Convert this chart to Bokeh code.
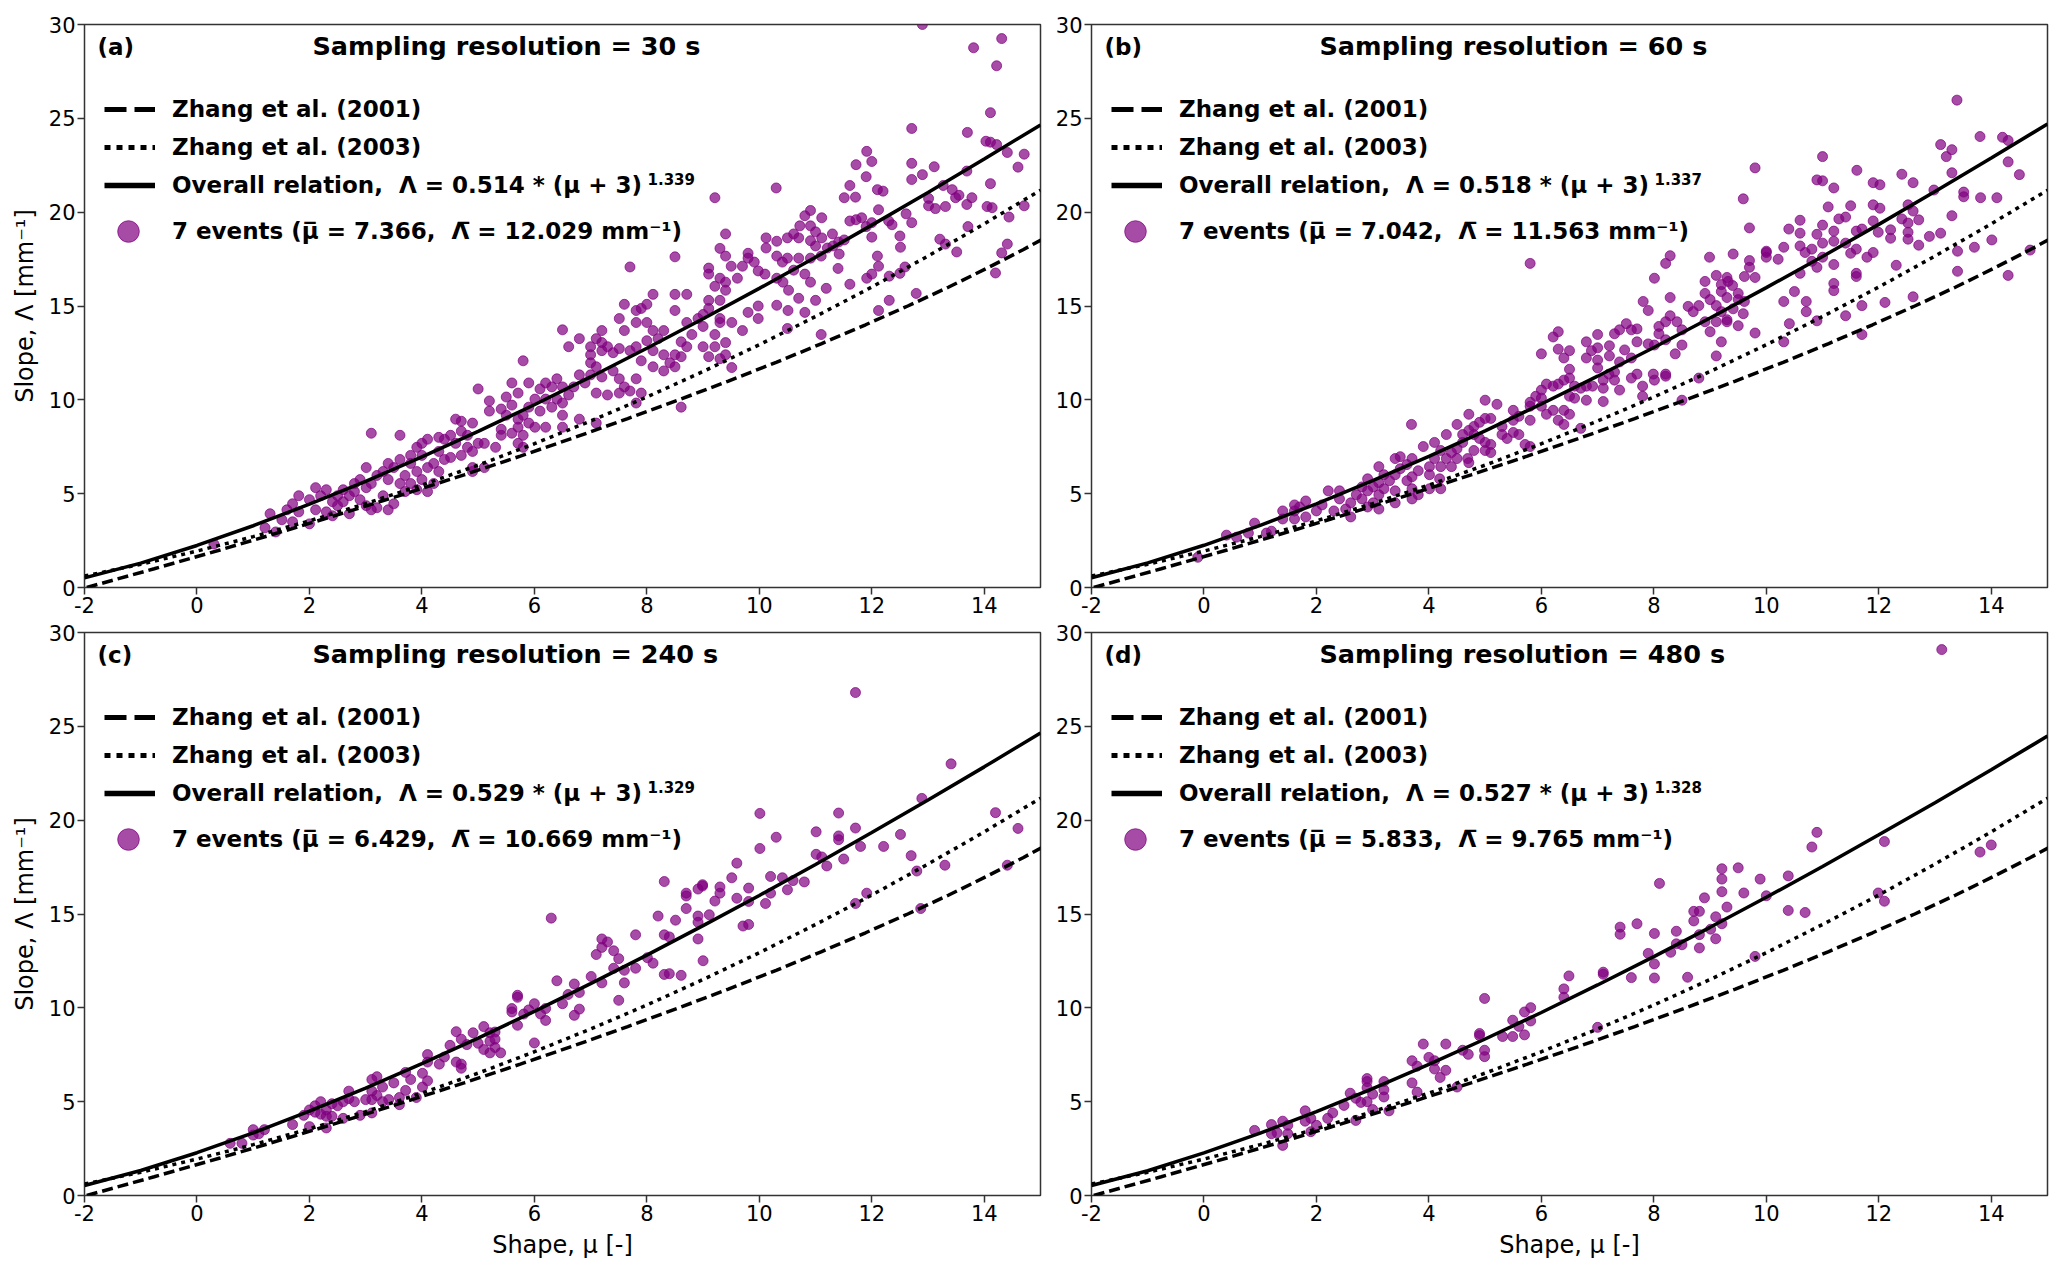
from bokeh.plotting import figure
from bokeh.layouts import gridplot
from bokeh.models import FixedTicker, Legend, LegendItem, Label
from bokeh.embed import file_html
from bokeh.resources import INLINE

# ---- data ----
MU_TICKS = [-2, 0, 2, 4, 6, 8, 10, 12, 14]
LAM_TICKS = [0, 5, 10, 15, 20, 25, 30]

PANEL_TAGS = ["(a)", "(b)", "(c)", "(d)"]
RESOLUTIONS = ["30 s", "60 s", "240 s", "480 s"]
FIT_COEF = ["0.514", "0.518", "0.529", "0.527"]
FIT_EXPO = ["1.339", "1.337", "1.329", "1.328"]
MU_MEAN = ["7.366", "7.042", "6.429", "5.833"]
LAM_MEAN = ["12.029", "11.563", "10.669", "9.765"]

# Zhang et al. (2001), given as slope -> shape pairs
Z01_LAM = [0, 1, 2, 3, 4, 5, 6, 7, 8, 9, 10, 11, 12, 13, 14, 15, 16, 17, 18, 19]
Z01_MU = [-1.96, -0.76, 0.41, 1.54, 2.64, 3.71, 4.75, 5.75, 6.72, 7.66,
          8.57, 9.45, 10.30, 11.11, 11.89, 12.64, 13.36, 14.04, 14.69, 15.31]

# Zhang et al. (2003) and the fitted overall relations, on a shape grid
CURVE_MU = [-2, -1, 0, 1, 2, 3, 4, 5, 6, 7, 8, 9, 10, 11, 12, 13, 14, 15]
Z03_LAM = [0.61, 1.24, 1.94, 2.71, 3.55, 4.47, 5.46, 6.52, 7.66, 8.87,
           10.15, 11.51, 12.94, 14.44, 16.01, 17.66, 19.38, 21.17]
FIT_A = [0.51, 1.30, 2.24, 3.29, 4.44, 5.66, 6.96, 8.32, 9.74, 11.22,
         12.75, 14.32, 15.94, 17.60, 19.31, 21.05, 22.83, 24.65]
FIT_B = [0.52, 1.31, 2.25, 3.31, 4.46, 5.69, 6.99, 8.35, 9.78, 11.26,
         12.79, 14.36, 15.98, 17.64, 19.35, 21.10, 22.88, 24.70]
FIT_C = [0.53, 1.33, 2.28, 3.34, 4.49, 5.72, 7.03, 8.39, 9.81, 11.29,
         12.81, 14.38, 15.99, 17.64, 19.34, 21.07, 22.84, 24.65]
FIT_D = [0.53, 1.32, 2.27, 3.32, 4.47, 5.69, 6.99, 8.34, 9.75, 11.22,
         12.73, 14.29, 15.89, 17.53, 19.22, 20.93, 22.69, 24.48]

# (shape mu, slope Lambda) of the 1-min events, per sampling resolution
PTS_30S = [
    (12.9, 30.0), (13.81, 28.76), (14.31, 29.25), (14.22, 27.8), (14.11, 25.3), (12.71, 24.46),
    (13.70, 24.25), (14.03, 23.78), (14.11, 23.73), (14.22, 23.6), (14.41, 23.18), (14.71, 23.09),
    (14.60, 22.4), (13.69, 22.19), (11.91, 23.24), (12.00, 22.7), (11.72, 22.53), (13.11, 22.42),
    (12.71, 22.6), (12.90, 22.0), (12.71, 21.74), (11.90, 21.89), (11.61, 21.42), (10.30, 21.29),
    (9.21, 20.77), (12.10, 21.2), (12.20, 21.12), (13.27, 21.42), (13.43, 21.2), (14.11, 21.52),
    (13.55, 20.9), (13.49, 20.77), (13.01, 20.73), (13.78, 20.77), (13.01, 20.34), (13.13, 20.19),
    (13.31, 20.3), (14.05, 20.3), (14.14, 20.24), (14.44, 19.74), (14.71, 20.34), (13.69, 20.41),
    (11.51, 20.77), (11.71, 20.8), (11.61, 19.53), (11.72, 19.6), (11.82, 19.7), (12.12, 20.13),
    (11.90, 19.23), (12.00, 19.44), (12.30, 19.53), (12.36, 19.33), (12.71, 19.44), (12.61, 19.91),
    (12.50, 18.73), (12.00, 18.67), (13.21, 18.56), (13.31, 18.3), (13.51, 17.88), (13.71, 19.23),
    (14.31, 17.83), (14.41, 18.3), (12.51, 18.13), (12.10, 17.66), (12.12, 17.12), (12.00, 16.7),
    (11.91, 16.48), (12.59, 17.08), (12.50, 16.74), (12.31, 16.59), (11.61, 16.16), (11.19, 15.94),
    (11.40, 17.0), (11.10, 13.48), (12.12, 14.76), (12.31, 15.3), (12.79, 15.67), (14.20, 16.76),
    (10.91, 20.09), (10.81, 19.81), (11.11, 19.7), (10.72, 19.27), (10.91, 19.27), (11.0, 18.95),
    (10.61, 18.84), (10.12, 18.63), (10.31, 18.45), (10.50, 18.63), (10.70, 18.63), (10.91, 18.48),
    (11.11, 18.63), (11.30, 18.84), (11.41, 18.41), (11.51, 18.52), (11.0, 18.2), (11.21, 18.09),
    (11.31, 18.2), (11.42, 17.77), (11.10, 17.66), (10.91, 17.55), (10.70, 17.55), (10.50, 17.55),
    (10.31, 17.66), (10.41, 17.34), (10.12, 18.09), (9.80, 17.81), (9.80, 17.55), (9.91, 17.34),
    (9.70, 17.12), (9.61, 16.48), (9.50, 17.12), (9.40, 18.84), (9.40, 17.66), (9.30, 18.07),
    (8.50, 17.62), (7.70, 17.08), (9.10, 17.02), (9.10, 16.7), (9.30, 16.48), (9.21, 16.05),
    (9.40, 16.27), (9.98, 16.87), (10.10, 16.7), (10.31, 16.48), (10.42, 16.27), (10.61, 16.91),
    (10.81, 16.70), (10.91, 16.27), (10.52, 15.84), (10.70, 15.41), (10.31, 15.04), (10.51, 14.76),
    (10.81, 14.66), (11.0, 15.3), (10.50, 13.8), (9.98, 15.0), (9.98, 14.33), (9.80, 14.66),
    (9.70, 13.69), (9.51, 14.12), (9.40, 13.05), (9.40, 15.84), (9.30, 15.3), (9.10, 15.3),
    (9.10, 14.87), (9.00, 14.55), (8.91, 14.33), (9.00, 13.91), (9.30, 14.33), (9.30, 14.12),
    (9.21, 13.48), (9.21, 12.83), (9.40, 12.4), (9.30, 12.19), (9.51, 11.72), (9.10, 12.3),
    (9.00, 12.83), (8.80, 13.48), (8.71, 12.83), (8.61, 13.09), (8.71, 14.12), (8.50, 14.76),
    (8.71, 15.62), (8.50, 15.62), (8.11, 15.62), (8.00, 15.09), (7.90, 14.87), (7.81, 14.76),
    (7.60, 15.09), (7.51, 14.33), (7.60, 13.69), (7.81, 14.12), (8.00, 14.12), (8.11, 13.69),
    (8.30, 13.69), (8.20, 13.26), (8.00, 13.15), (7.81, 12.83), (8.11, 12.62), (8.30, 12.4),
    (8.41, 11.97), (8.30, 11.54), (8.11, 11.76), (8.50, 11.76), (8.61, 12.3), (8.61, 9.61),
    (8.50, 12.40), (7.90, 12.08), (7.70, 12.62), (7.51, 12.73), (7.30, 12.83), (7.40, 12.51),
    (7.20, 12.62), (7.00, 12.83), (7.00, 12.40), (7.10, 13.26), (7.20, 13.69), (7.20, 13.05),
    (7.00, 11.97), (7.10, 11.76), (7.00, 11.33), (7.20, 11.22), (7.40, 11.54), (7.51, 11.12),
    (7.60, 10.69), (7.81, 11.12), (7.90, 10.36), (7.70, 10.47), (7.81, 9.83), (7.51, 10.36),
    (7.30, 10.26), (7.10, 10.36), (6.90, 10.9), (6.80, 11.33), (6.80, 13.26), (6.50, 13.73),
    (6.61, 12.83), (6.70, 10.69), (6.61, 10.26), (6.50, 10.69), (6.40, 11.12), (6.31, 10.69),
    (6.20, 10.90), (6.10, 10.58), (6.01, 10.04), (6.20, 10.04), (6.40, 10.04), (6.50, 9.83),
    (6.31, 9.61), (6.50, 9.18), (6.10, 9.40), (5.90, 9.61), (5.80, 9.18), (5.80, 12.08),
    (5.60, 10.90), (5.71, 10.36), (5.90, 10.90), (5.50, 10.15), (5.60, 9.72), (5.41, 9.51),
    (5.50, 9.18), (5.71, 8.97), (5.71, 8.54), (5.90, 8.76), (6.01, 8.54), (6.20, 8.54),
    (5.80, 8.11), (5.60, 8.22), (5.41, 8.11), (5.71, 7.68), (5.80, 7.47), (5.31, 7.47),
    (5.41, 8.43), (5.20, 9.40), (5.20, 9.94), (5.00, 10.58), (4.90, 8.76), (4.70, 8.86),
    (4.60, 8.97), (4.70, 8.33), (4.81, 8.11), (4.51, 8.11), (4.60, 7.68), (4.40, 7.90),
    (4.30, 8.00), (4.81, 7.47), (4.70, 7.04), (4.90, 7.25), (5.00, 7.68), (5.11, 7.68),
    (5.11, 6.39), (4.90, 6.18), (4.30, 7.25), (4.40, 6.82), (4.51, 6.93), (4.21, 6.61),
    (4.10, 7.90), (4.00, 7.68), (3.91, 7.47), (4.00, 7.04), (3.80, 7.04), (3.61, 8.11),
    (3.10, 8.22), (4.10, 6.39), (3.91, 6.18), (4.00, 5.75), (3.80, 6.61), (3.70, 5.97),
    (3.61, 6.82), (3.50, 6.39), (3.40, 6.61), (3.31, 6.18), (3.20, 5.97), (3.40, 5.75),
    (3.61, 5.54), (3.80, 5.54), (3.70, 5.11), (3.91, 5.21), (4.10, 5.11), (3.50, 4.46),
    (3.31, 4.89), (3.10, 5.54), (3.01, 6.39), (2.90, 5.75), (3.01, 5.32), (2.80, 5.54),
    (2.80, 5.11), (2.90, 4.68), (3.20, 4.25), (3.01, 4.36), (2.71, 4.89), (2.60, 5.21),
    (2.50, 4.89), (2.41, 4.57), (2.60, 4.57), (2.71, 3.93), (2.30, 5.21), (2.11, 5.32),
    (2.20, 4.89), (2.00, 4.68), (2.11, 4.14), (2.00, 3.39), (1.81, 4.89), (1.70, 4.46),
    (1.60, 4.14), (1.81, 4.03), (1.70, 3.50), (1.51, 3.61), (1.30, 3.93), (1.21, 3.18),
    (1.40, 2.96), (0.30, 2.32), (2.30, 4.03), (2.50, 4.36), (2.41, 3.82), (3.40, 4.14),
    (3.10, 4.14), (4.21, 5.54), (4.30, 6.18), (4.90, 6.39), (6.50, 8.54), (7.10, 8.76),
    (6.80, 8.97),
]

PTS_60S = [
    (13.39, 25.97), (13.80, 24.03), (14.20, 23.99), (14.30, 23.82), (13.10, 23.6), (13.30, 23.33),
    (13.20, 22.96), (14.30, 22.68), (14.50, 22.0), (13.30, 22.1), (11.00, 22.96), (9.80, 22.36),
    (11.61, 22.23), (12.41, 22.02), (12.61, 21.57), (10.90, 21.72), (11.00, 21.67), (11.20, 21.29),
    (11.90, 21.57), (12.02, 21.46), (12.98, 21.18), (13.51, 21.07), (13.51, 20.82), (13.81, 20.77),
    (14.10, 20.77), (9.59, 20.71), (11.10, 20.28), (11.50, 20.34), (11.90, 20.39), (12.02, 20.21),
    (12.52, 20.39), (12.61, 20.06), (13.30, 19.81), (11.41, 19.74), (11.29, 19.64), (10.60, 19.57),
    (11.00, 19.31), (11.90, 19.53), (12.41, 19.64), (12.52, 19.42), (12.71, 19.59), (9.70, 19.16),
    (10.40, 19.10), (10.60, 18.88), (10.90, 18.82), (11.20, 18.99), (11.60, 18.99), (11.70, 19.10),
    (12.21, 19.06), (11.99, 18.93), (12.52, 18.93), (12.90, 18.71), (13.10, 18.88), (12.21, 18.61),
    (12.52, 18.56), (14.01, 18.52), (13.70, 18.13), (13.40, 17.92), (12.71, 18.24), (10.31, 18.13),
    (10.60, 18.20), (10.81, 18.03), (11.00, 18.35), (11.20, 18.45), (11.41, 18.35), (11.00, 17.6),
    (10.69, 17.85), (10.00, 17.92), (10.00, 17.6), (10.21, 17.49), (11.50, 17.81), (11.60, 18.03),
    (11.79, 17.6), (11.90, 17.85), (10.81, 17.38), (11.20, 17.21), (10.90, 17.06), (12.31, 17.17),
    (10.60, 16.74), (11.60, 16.74), (11.60, 16.57), (14.30, 16.63), (14.69, 17.98), (13.40, 16.85),
    (11.20, 16.20), (11.20, 15.82), (10.50, 15.77), (10.31, 15.24), (10.71, 15.24), (10.71, 14.70),
    (11.70, 15.02), (11.41, 14.48), (12.11, 15.19), (12.61, 15.49), (10.41, 14.06), (10.90, 14.21),
    (10.31, 13.09), (11.70, 13.48), (9.80, 13.56), (9.59, 14.59),
    (10.0, 17.85), (9.70, 17.42), (9.70, 17.06), (9.61, 16.57), (9.80, 16.52), (9.41, 17.77),
    (9.11, 16.63), (8.99, 17.6), (8.29, 17.68), (8.21, 17.27), (8.01, 16.48), (9.30, 16.52),
    (9.32, 16.31), (9.40, 16.09), (9.20, 16.14), (8.91, 16.31), (9.20, 15.77), (8.91, 15.67),
    (9.00, 15.34), (9.50, 15.67), (9.50, 15.34), (9.61, 15.24), (9.30, 15.45), (9.11, 15.02),
    (9.20, 14.70), (9.41, 14.85), (9.30, 14.27), (9.30, 14.16), (9.50, 13.95), (9.11, 14.16),
    (8.91, 14.16), (9.00, 13.63), (9.20, 13.09), (9.11, 12.34), (8.80, 15.02), (8.61, 14.98),
    (8.70, 14.70), (8.29, 15.45), (7.81, 15.24), (7.90, 14.76), (8.29, 14.48), (8.21, 14.16),
    (8.09, 13.91), (8.41, 14.16), (8.50, 13.73), (8.09, 13.52), (8.21, 13.20), (8.01, 12.92),
    (8.38, 12.45), (8.50, 12.92), (7.90, 12.98), (7.70, 13.09), (7.60, 13.73), (7.51, 14.06),
    (7.70, 13.78), (7.39, 13.73), (7.30, 13.52), (7.48, 12.66), (7.60, 12.23), (7.39, 12.02),
    (7.30, 11.48), (7.60, 11.16), (7.70, 11.37), (7.99, 11.37), (8.21, 11.37), (8.01, 11.05),
    (8.21, 11.26), (7.80, 10.73), (7.80, 10.19), (8.50, 9.98), (8.80, 11.16), (7.21, 12.88),
    (7.21, 12.34), (7.00, 13.48), (7.00, 12.77), (6.80, 13.09), (6.89, 12.62), (6.80, 12.23),
    (7.00, 12.12), (7.00, 11.70), (7.20, 11.37), (7.10, 11.05), (7.30, 11.05), (7.39, 10.52),
    (7.10, 10.62), (6.91, 10.73), (6.80, 10.73), (6.80, 9.98), (7.10, 9.91), (6.50, 12.62),
    (6.50, 11.63), (6.40, 12.23), (6.30, 12.70), (6.21, 13.35), (6.30, 13.63), (6.00, 12.45),
    (6.40, 11.05), (6.50, 11.16), (6.59, 10.73), (6.70, 10.62), (6.50, 10.19), (6.59, 10.09),
    (6.30, 10.84), (6.21, 10.73), (6.09, 10.84), (6.00, 10.52), (5.90, 10.19), (6.00, 10.09),
    (5.80, 9.87), (5.80, 9.66), (6.00, 9.66), (6.09, 9.23), (6.21, 9.44), (6.40, 9.44),
    (6.50, 9.23), (6.30, 8.91), (6.40, 8.69), (6.70, 8.48), (5.80, 8.91), (5.50, 9.44),
    (5.50, 8.91), (5.60, 9.12), (5.30, 8.58), (5.30, 8.15), (5.50, 8.26), (5.60, 8.15),
    (5.39, 7.94), (5.71, 7.62), (5.80, 7.51), (5.21, 9.76), (5.00, 9.98), (5.10, 9.01),
    (5.00, 9.01), (4.90, 8.80), (4.71, 9.23), (4.80, 8.58), (4.71, 8.37), (4.80, 8.15),
    (4.60, 8.15), (4.50, 8.69), (4.90, 7.94), (5.00, 7.73), (5.10, 7.62), (5.00, 7.30),
    (4.80, 7.30), (5.10, 7.19), (4.60, 7.73), (4.50, 7.40), (4.40, 7.19), (4.31, 8.15),
    (4.10, 7.73), (4.21, 7.30), (4.10, 6.87), (4.31, 6.87), (4.50, 6.87), (4.71, 6.65),
    (4.40, 6.44), (4.21, 6.44), (4.01, 6.44), (3.69, 8.69), (3.90, 7.51), (3.70, 6.87),
    (3.49, 6.97), (3.40, 6.87), (3.61, 6.55), (3.49, 6.33), (3.81, 6.22), (4.01, 6.01),
    (4.19, 5.79), (3.70, 5.90), (3.61, 5.69), (3.40, 6.01), (3.20, 6.01), (3.11, 6.44),
    (3.30, 5.69), (3.11, 5.58), (2.91, 5.79), (3.01, 5.36), (3.20, 5.26), (3.40, 5.15),
    (3.70, 5.26), (3.81, 4.94), (4.01, 5.26), (4.21, 5.26), (3.40, 4.51), (3.70, 4.72),
    (3.11, 4.94), (2.91, 5.15), (2.81, 5.36), (2.81, 4.72), (2.71, 4.94), (2.61, 4.51),
    (3.01, 4.51), (3.11, 4.18), (2.91, 4.29), (2.52, 4.18), (2.61, 3.76), (2.41, 4.72),
    (2.41, 5.15), (2.31, 4.08), (2.21, 5.15), (2.10, 4.40), (2.00, 4.08), (1.81, 4.61),
    (1.70, 4.29), (1.61, 4.40), (1.61, 4.08), (1.81, 3.76), (1.61, 3.65), (1.40, 4.08),
    (1.40, 3.65), (1.20, 3.00), (1.11, 2.90), (0.90, 3.43), (0.79, 2.90), (0.58, 2.68),
    (0.40, 2.79), (-0.11, 1.61), (5.80, 17.27), (4.69, 6.87),
]

PTS_240S = [
    (11.71, 26.8), (13.41, 23.0), (12.89, 21.16), (10.01, 20.36), (11.41, 20.38), (14.20, 20.40),
    (14.60, 19.56), (11.01, 19.38), (11.41, 19.16), (11.41, 18.96), (11.71, 19.58), (10.30, 19.09),
    (12.51, 19.24), (10.01, 18.49), (12.21, 18.6), (11.80, 18.6), (11.01, 18.18), (11.11, 18.04),
    (12.70, 18.11), (11.20, 17.56), (11.50, 17.93), (13.30, 17.6), (14.41, 17.6), (9.60, 17.71),
    (12.80, 17.29), (10.20, 17.0), (10.41, 16.93), (9.51, 16.93), (10.60, 16.78), (10.80, 16.71),
    (8.31, 16.73), (8.99, 16.49), (8.99, 16.56), (8.91, 16.33), (9.30, 16.44), (9.81, 16.38),
    (8.70, 16.11), (8.70, 15.96), (9.30, 16.11), (10.20, 16.11), (10.50, 16.29), (11.91, 16.11),
    (9.21, 15.69), (9.60, 15.84), (9.81, 15.67), (10.11, 15.56), (11.71, 15.56), (8.70, 15.29),
    (9.11, 14.96), (8.91, 14.89), (8.91, 14.56), (9.71, 14.36), (9.81, 14.44), (8.51, 14.67),
    (12.87, 15.29), (8.20, 14.89), (6.30, 14.78), (8.31, 13.89), (8.40, 13.78), (7.80, 13.89),
    (7.20, 13.67), (7.30, 13.51), (7.20, 13.22), (7.41, 13.04), (7.10, 12.84), (7.50, 12.62),
    (8.91, 13.67), (9.00, 12.51), (8.01, 12.67), (8.11, 12.38), (7.80, 12.11), (7.41, 12.11),
    (7.60, 12.0), (7.60, 11.33), (8.31, 11.78), (8.40, 11.82), (8.61, 11.73), (7.01, 11.67),
    (7.20, 11.33), (6.40, 11.44), (6.71, 11.27), (6.60, 10.71), (6.80, 10.82), (7.50, 10.40),
    (5.70, 10.67), (5.70, 10.56), (6.50, 10.22), (6.80, 9.93), (6.71, 9.60), (6.00, 10.22),
    (6.20, 9.96), (5.60, 9.96), (5.60, 9.78), (5.90, 9.89), (5.81, 9.67), (6.11, 9.67),
    (6.20, 9.33), (5.70, 9.07), (6.00, 8.13), (5.10, 9.0), (5.21, 8.67), (5.30, 8.71),
    (4.91, 8.67), (4.61, 8.73), (4.70, 8.33), (4.50, 8.0), (4.80, 8.04), (5.00, 8.11),
    (5.10, 7.78), (5.21, 7.60), (5.30, 7.89), (5.40, 7.60), (5.21, 8.22), (5.30, 8.33),
    (4.40, 7.38), (4.10, 7.51), (4.10, 7.11), (4.31, 7.0), (4.61, 7.11), (4.70, 7.0),
    (4.70, 6.78), (4.01, 6.51), (3.71, 6.56), (3.80, 6.18), (4.10, 6.11), (4.01, 5.78),
    (3.50, 6.0), (3.30, 5.78), (3.71, 5.60), (3.90, 5.22), (3.11, 6.18), (3.20, 6.33),
    (3.11, 5.56), (3.20, 5.33), (3.11, 5.11), (3.41, 5.11), (3.30, 5.0), (3.60, 5.22),
    (3.60, 4.84), (3.00, 5.11), (2.80, 5.0), (2.70, 5.56), (2.70, 5.16), (2.60, 5.0),
    (2.50, 4.78), (2.40, 4.89), (3.11, 4.40), (2.90, 4.27), (2.30, 4.56), (2.30, 4.22),
    (2.20, 5.0), (2.10, 4.78), (2.10, 4.44), (2.00, 4.56), (1.90, 4.27), (2.20, 4.33),
    (2.40, 4.22), (2.30, 3.60), (2.60, 4.11), (1.70, 3.78), (2.00, 3.67), (1.20, 3.51),
    (1.00, 3.51), (1.10, 3.29), (1.00, 3.22), (0.80, 2.78), (0.59, 2.78),
]

PTS_480S = [
    (13.12, 29.09), (10.90, 19.35), (10.81, 18.57), (12.10, 18.86), (14.0, 18.68), (13.80, 18.30),
    (9.21, 17.41), (9.50, 17.46), (9.89, 16.86), (9.21, 16.86), (10.39, 17.03), (8.10, 16.63),
    (9.21, 16.19), (9.60, 16.12), (10.00, 15.97), (11.99, 16.12), (12.10, 15.68), (8.90, 15.86),
    (9.30, 15.37), (10.39, 15.19), (10.69, 15.08), (8.71, 15.14), (8.81, 15.14), (9.10, 14.85),
    (8.71, 14.63), (9.21, 14.48), (9.01, 14.19), (7.40, 14.30), (7.70, 14.48), (7.40, 13.92),
    (8.01, 13.96), (8.40, 14.08), (8.81, 13.90), (9.10, 13.68), (8.40, 13.41), (8.50, 13.36),
    (8.30, 12.96), (7.90, 12.90), (8.81, 13.19), (8.01, 12.34), (9.80, 12.74), (7.10, 11.90),
    (7.10, 11.79), (6.49, 11.70), (7.60, 11.61), (8.01, 11.59), (8.60, 11.63), (6.40, 11.01),
    (6.40, 10.56), (4.99, 10.50), (5.81, 10.01), (5.70, 9.78), (5.49, 9.34), (5.81, 9.30),
    (5.60, 9.01), (7.00, 8.96), (4.90, 8.63), (4.90, 8.52), (5.31, 8.47), (5.49, 8.47),
    (5.70, 8.56), (3.90, 8.07), (4.30, 8.07), (4.60, 7.74), (4.99, 7.74), (4.70, 7.52),
    (4.99, 7.40), (4.00, 7.36), (3.70, 7.18), (4.10, 7.18), (3.79, 6.89), (4.10, 6.74),
    (4.30, 6.67), (3.70, 6.00), (4.20, 6.29), (4.50, 5.78), (3.79, 5.51), (2.90, 6.23),
    (2.90, 6.07), (3.20, 6.07), (3.20, 5.63), (3.20, 5.25), (3.00, 5.40), (2.90, 5.74),
    (2.60, 5.45), (2.70, 5.18), (2.79, 4.96), (2.90, 5.00), (2.49, 4.80), (3.00, 4.58),
    (3.29, 4.51), (2.29, 4.40), (2.20, 4.11), (2.70, 4.00), (1.80, 4.51), (1.80, 3.96),
    (1.90, 4.11), (1.90, 3.40), (2.00, 3.74), (1.40, 3.96), (1.49, 3.74), (1.20, 3.78),
    (1.49, 3.29), (1.20, 3.29), (1.30, 3.34), (0.90, 3.47), (1.40, 2.67),
]

FRAME_W = 956
FRAME_H = 563
FONT = "DejaVu Sans"
SPINE = "#333333"
NAN = float("nan")


def legend_box(items, glyph_w, glyph_h, left, top):
    # frameless legend whose top-left corner sits (left, top) px inside the frame
    lg = Legend(items=items)
    lg.location = (left, FRAME_H - top - glyph_h * len(items))
    lg.glyph_width = glyph_w
    lg.glyph_height = glyph_h
    lg.spacing = 0
    lg.padding = 0
    lg.margin = 0
    lg.label_standoff = 17
    lg.label_height = 20
    lg.label_text_font = FONT
    lg.label_text_font_size = "23px"
    lg.label_text_font_style = "bold"
    lg.label_text_color = "black"
    lg.border_line_color = None
    lg.background_fill_alpha = 0
    return lg


def text_label(x, y, text, size, bold=True):
    return Label(x=x, y=y, x_units="screen", y_units="screen", text=text,
                 text_font=FONT, text_font_size=size, text_color="black",
                 text_font_style="bold" if bold else "normal", text_baseline="middle")


def make_panel(i, pts, fit_lam, first_col, top_row):
    p = figure(frame_width=FRAME_W, frame_height=FRAME_H,
               x_range=(-2, 15), y_range=(0, 30),
               output_backend="svg", toolbar_location=None,
               min_border_left=84 if first_col else 47, min_border_right=4,
               min_border_top=24 if top_row else 12,
               min_border_bottom=33 if top_row else 60)
    p.grid.visible = False
    p.outline_line_color = SPINE
    p.outline_line_width = 1.5
    p.xaxis.ticker = FixedTicker(ticks=MU_TICKS)
    p.yaxis.ticker = FixedTicker(ticks=LAM_TICKS)
    p.xaxis.major_label_overrides = {-2: "-2"}
    p.axis.axis_line_color = None
    p.axis.major_tick_line_color = SPINE
    p.axis.major_tick_line_width = 1.5
    p.axis.major_tick_in = 0
    p.axis.major_tick_out = 7
    p.axis.minor_tick_line_color = None
    p.axis.major_label_text_font = FONT
    p.axis.major_label_text_font_size = "21px"
    p.axis.major_label_text_color = "black"
    p.axis.major_label_standoff = 2
    if first_col:
        p.yaxis.axis_label = "Slope, Λ [mm⁻¹]"
    if not top_row:
        p.xaxis.axis_label = "Shape, μ [-]"
    p.axis.axis_label_text_font = FONT
    p.axis.axis_label_text_font_size = "24px"
    p.axis.axis_label_text_font_style = "normal"
    p.axis.axis_label_text_color = "black"
    p.axis.axis_label_standoff = 7

    mu = [a for a, b in pts]
    lam = [b for a, b in pts]
    r_pts = p.scatter(mu, lam, size=10, fill_color="purple", fill_alpha=0.7,
                      line_color="purple", line_alpha=0.7, line_width=1)
    p.line(Z01_MU, Z01_LAM, line_color="black", line_width=3.5, line_dash="11 5")
    p.line(CURVE_MU, Z03_LAM, line_color="black", line_width=3.5, line_dash="4 5")
    p.line(CURVE_MU, fit_lam, line_color="black", line_width=3.5)

    # legend handles are drawn heavier than the curves; they carry no visible data
    h_z01 = p.line([NAN], [NAN], line_color="black", line_width=5, line_dash="22 8")
    h_z03 = p.line([NAN], [NAN], line_color="black", line_width=5, line_dash="6 6")
    h_fit = p.line([NAN], [NAN], line_color="black", line_width=5.5)

    p.add_layout(legend_box([
        LegendItem(label="Zhang et al. (2001)", renderers=[h_z01]),
        LegendItem(label="Zhang et al. (2003)", renderers=[h_z03]),
        LegendItem(label="Overall relation,  Λ = %s * (μ + 3)" % FIT_COEF[i], renderers=[h_fit]),
    ], 51, 38, 20, 66))
    p.add_layout(legend_box([
        LegendItem(label="7 events (μ\u0305 = %s,  Λ\u0305 = %s mm⁻¹)" % (MU_MEAN[i], LAM_MEAN[i]),
                   renderers=[r_pts]),
    ], 54, 54, 17, 180))

    p.add_layout(text_label(563, FRAME_H - 154, FIT_EXPO[i], "15px"))
    p.add_layout(text_label(13, FRAME_H - 22, PANEL_TAGS[i], "23px"))
    p.add_layout(text_label(228, FRAME_H - 21, "Sampling resolution = " + RESOLUTIONS[i], "25.5px"))
    return p


pa = make_panel(0, PTS_30S, FIT_A, True, True)
pb = make_panel(1, PTS_60S, FIT_B, False, True)
pc = make_panel(2, PTS_240S, FIT_C, True, False)
pd = make_panel(3, PTS_480S, FIT_D, False, False)

grid = gridplot([[pa, pb], [pc, pd]], toolbar_location=None)

open("out.html", "w").write(file_html(grid, INLINE))
